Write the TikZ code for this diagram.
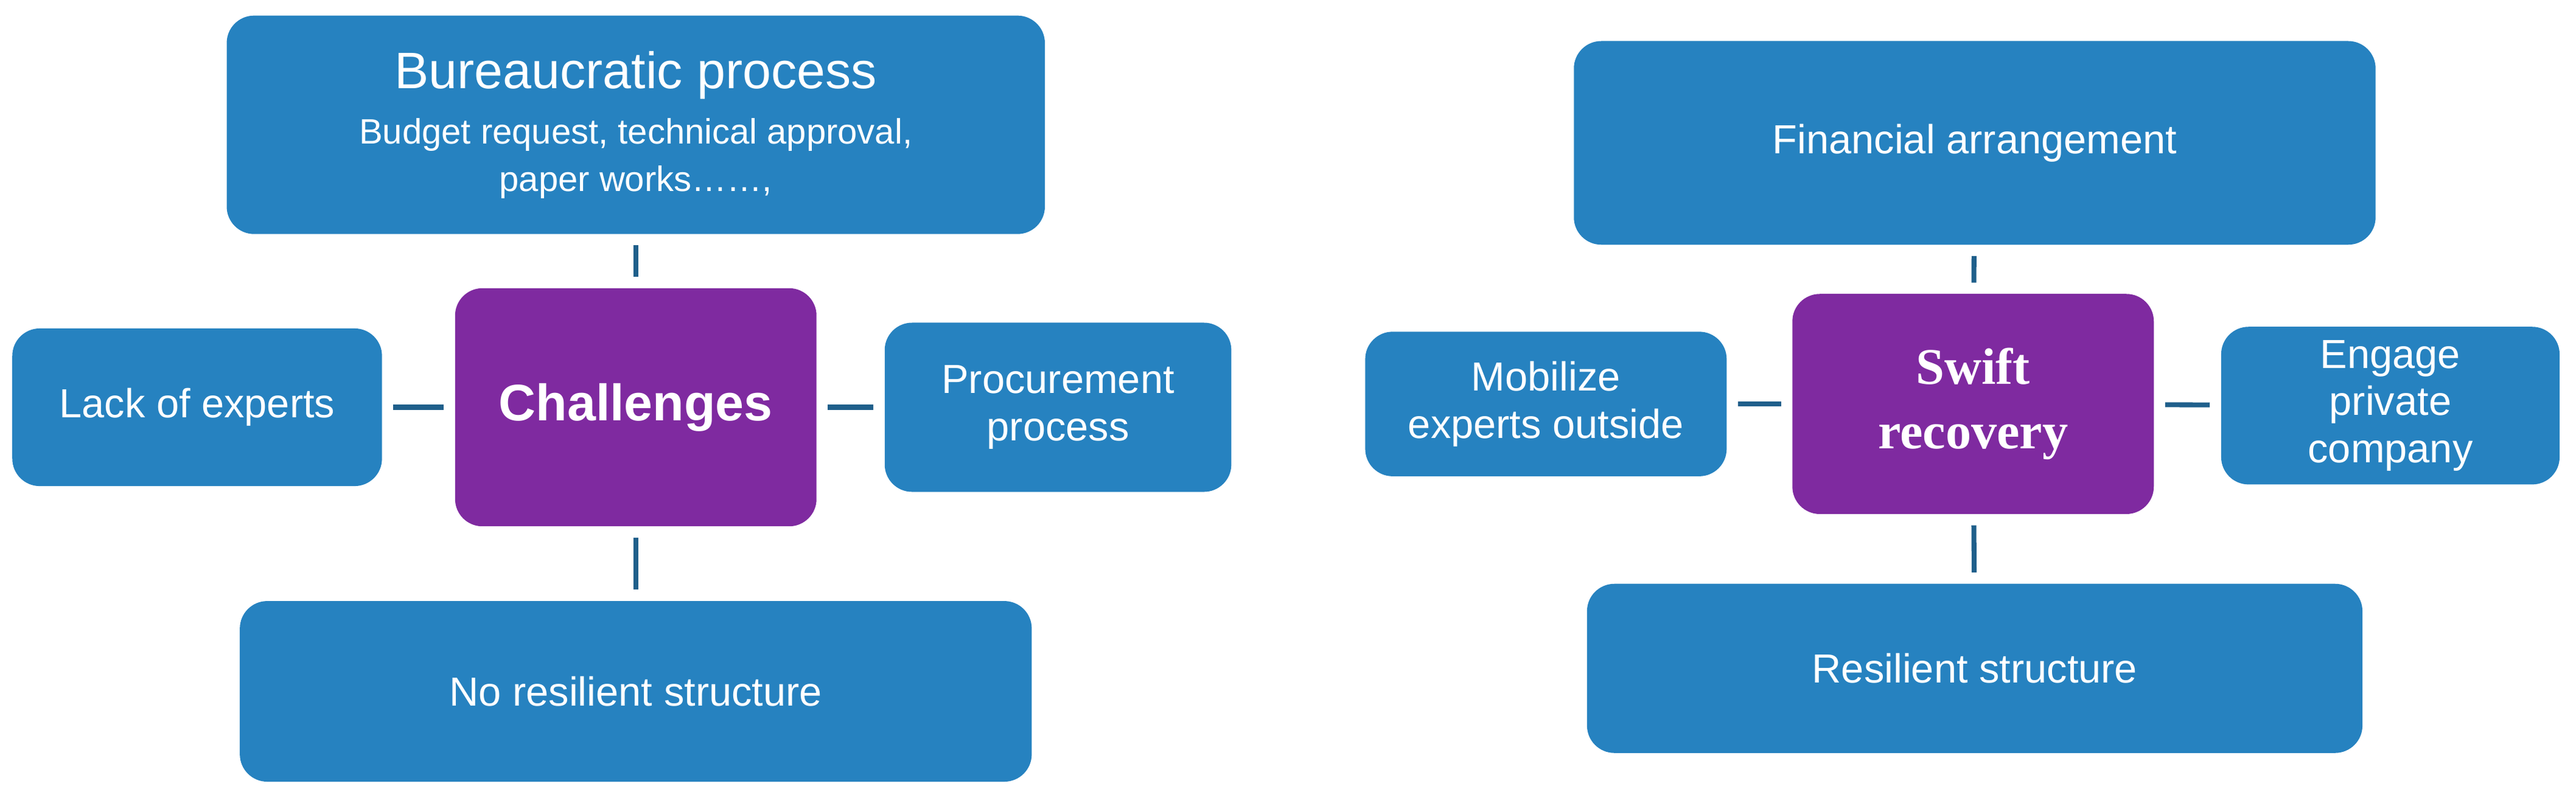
\documentclass[tikz,border=0pt]{standalone}
\usepackage{fontspec}
\setmainfont{Liberation Sans}
\newfontfamily\swiftfont{Liberation Serif}
\usetikzlibrary{positioning}
\definecolor{boxblue}{HTML}{2682C0}
\definecolor{boxpurple}{HTML}{7F2AA0}
\definecolor{linkblue}{HTML}{1F5F8B}
\tikzset{box/.style={fill=boxblue, draw=none, rounded corners=0.45cm, text=white, align=center, font=\fontsize{19}{22}\selectfont},
  hub/.style={box, fill=boxpurple},
  link/.style={color=linkblue, line width=2.3pt, shorten <=0.18cm, shorten >=0.18cm}}
\begin{document}
\begin{tikzpicture}[x=0.027cm, y=-0.027cm]
                \useasboundingbox (0,0) rectangle (1568,490.8);

                % challenges
                \node [hub, minimum width=220*0.027cm, minimum height=145*0.027cm, font=\bfseries\fontsize{24}{28}\selectfont] (chal) at (387,248) {Challenges};
                \node [box, minimum width=498*0.027cm, minimum height=133*0.027cm] (bur) at (387,76) {{\fontsize{24}{28}\selectfont Bureaucratic process}\\[4pt]{\fontsize{16.5}{20}\selectfont Budget request, technical approval,}\\{\fontsize{16.5}{20}\selectfont paper works\dots\dots,}};
                \node [box, minimum width=225*0.027cm, minimum height=96*0.027cm] (lack) at (120,248) {Lack of experts};
                \node [box, minimum width=211*0.027cm, minimum height=103*0.027cm] (proc) at (644,248) {Procurement\\process};
                \node [box, minimum width=482*0.027cm, minimum height=110*0.027cm] (nores) at (387,421) {No resilient structure};

                \draw [link] (bur) -- (chal);
                \draw [link] (lack) -- (chal);
                \draw [link] (chal) -- (proc);
                \draw [link] (chal) -- (nores);

                % swift recovery
                \node [hub, minimum width=220*0.027cm, minimum height=134*0.027cm, font=\swiftfont\bfseries\fontsize{24}{30}\selectfont] (swift) at (1201,246) {Swift\\recovery};
                \node [box, minimum width=488*0.027cm, minimum height=124*0.027cm] (fin) at (1202,87) {Financial arrangement};
                \node [box, minimum width=220*0.027cm, minimum height=88*0.027cm] (mob) at (941,246) {Mobilize\\experts outside};
                \node [box, minimum width=206*0.027cm, minimum height=96*0.027cm] (eng) at (1455,247) {Engage\\private\\company};
                \node [box, minimum width=472*0.027cm, minimum height=103*0.027cm] (res) at (1202,407) {Resilient structure};

                \draw [link] (fin) -- (swift);
                \draw [link] (mob) -- (swift);
                \draw [link] (swift) -- (eng);
                \draw [link] (swift) -- (res);
\end{tikzpicture}
\end{document}
